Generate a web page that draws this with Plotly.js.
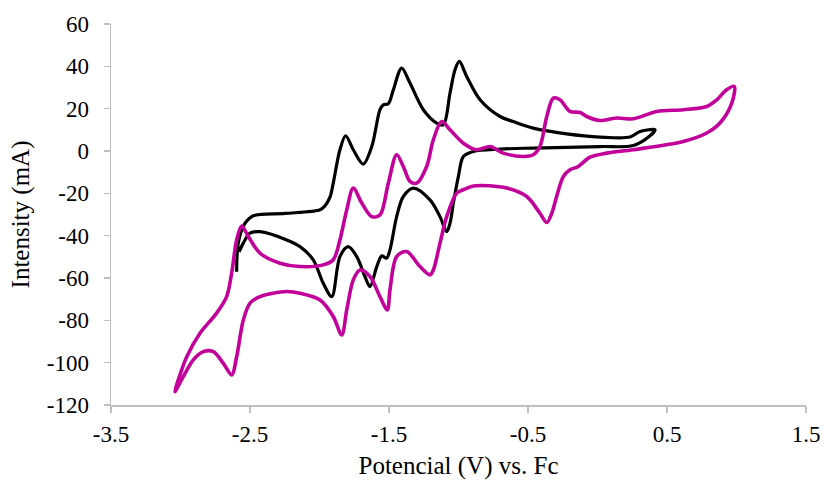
<!DOCTYPE html>
<html>
<head>
<meta charset="utf-8">
<script src="https://cdn.plot.ly/plotly-3.0.1.min.js"></script>
<style>html,body{margin:0;padding:0;background:#fff;}#chart{width:824px;height:483px;}</style>
</head>
<body>
<div id="chart"></div>
<script>
// Black voltammogram (potential V vs Fc, current mA)
const blackV = [-2.596,-2.594,-2.584,-2.565,-2.536,-2.476,-2.248,-1.996,-1.960,-1.924,-1.901,-1.853,-1.812,-1.757,-1.685,-1.624,-1.565,-1.541,-1.505,-1.469,-1.409,-1.349,-1.253,-1.157,-1.109,-1.061,-1.025,-0.994,-0.941,-0.845,-0.701,-0.606,-0.462,-0.222,0.018,0.234,0.306,0.414,0.378,0.258,0.018,-0.462,-0.701,-0.893,-0.965,-1.001,-1.037,-1.061,-1.085,-1.133,-1.205,-1.325,-1.397,-1.445,-1.493,-1.517,-1.553,-1.588,-1.637,-1.673,-1.732,-1.793,-1.853,-1.912,-1.973,-2.045,-2.140,-2.236,-2.428,-2.500,-2.548,-2.579];
const blackI = [-57.0,-50.5,-43.5,-38.2,-34.1,-30.6,-29.5,-27.8,-25.9,-21.7,-15.2,0.6,7.2,0.6,-6.2,2.1,19.5,21.8,22.3,28.9,39.2,32.1,19.5,13.2,12.4,27.4,38.4,42.3,35.2,24.2,16.3,13.9,10.8,8.1,6.6,6.6,9.2,10.0,7.2,2.6,2.1,1.4,0.9,-0.2,-2.6,-12.1,-24.6,-34.1,-38.1,-31.0,-23.1,-17.5,-21.5,-31.0,-46.7,-50.6,-49.6,-54.6,-64.1,-59.3,-49.9,-45.2,-49.9,-68.8,-62.5,-51.4,-45.2,-42.0,-38.1,-38.8,-43.5,-47.7];

// Magenta voltammogram
const magV = [-3.040,-3.004,-2.955,-2.860,-2.740,-2.668,-2.632,-2.596,-2.560,-2.512,-2.428,-2.284,-2.140,-1.973,-1.901,-1.853,-1.804,-1.757,-1.696,-1.624,-1.565,-1.505,-1.445,-1.397,-1.349,-1.301,-1.229,-1.181,-1.121,-1.061,-0.965,-0.869,-0.773,-0.678,-0.534,-0.462,-0.414,-0.365,-0.318,-0.270,-0.198,-0.126,-0.078,0.018,0.138,0.258,0.426,0.617,0.786,0.858,0.929,0.984,0.966,0.881,0.786,0.617,0.258,0.066,-0.054,-0.138,-0.198,-0.246,-0.294,-0.329,-0.365,-0.414,-0.509,-0.653,-0.893,-0.965,-1.013,-1.085,-1.133,-1.181,-1.205,-1.277,-1.373,-1.445,-1.493,-1.512,-1.565,-1.637,-1.709,-1.757,-1.804,-1.840,-1.901,-1.996,-2.140,-2.236,-2.428,-2.500,-2.548,-2.596,-2.632,-2.692,-2.764,-2.836,-2.908,-2.980,-3.040];
const magI = [-113.7,-105.8,-97.2,-86.1,-76.6,-68.8,-57.7,-42.0,-35.4,-40.4,-48.3,-53.0,-54.6,-53.8,-51.4,-42.0,-27.8,-17.5,-24.6,-31.0,-30.2,-15.2,-1.8,-7.3,-14.4,-15.2,-7.3,5.3,13.9,10.0,3.7,0.6,2.1,-1.0,-2.6,-1.8,2.1,16.3,25.0,24.2,18.7,18.2,16.3,14.4,15.6,15.2,18.7,19.5,21.0,24.2,28.9,30.5,22.6,13.2,8.5,4.5,0.6,-1.0,-2.9,-7.3,-8.9,-12.1,-21.5,-29.4,-33.8,-29.4,-21.5,-17.5,-16.5,-18.3,-19.9,-31.0,-43.5,-56.2,-58.5,-54.6,-47.5,-49.9,-65.6,-75.1,-68.8,-59.3,-56.2,-60.9,-75.1,-86.9,-78.2,-70.4,-67.2,-66.4,-68.8,-71.9,-79.8,-97.2,-105.8,-100.3,-94.8,-94.8,-98.7,-106.6,-113.7];

// Tick labels
const xTickVals = [-3.5,-2.5,-1.5,-0.5,0.5,1.5];
const xTickText = ["-3.5","-2.5","-1.5","-0.5","0.5","1.5"];
const yTickVals = [-120,-100,-80,-60,-40,-20,0,20,40,60];
const yTickText = ["-120","-100","-80","-60","-40","-20","0","20","40","60"];

const font = "Liberation Serif, Times New Roman, serif";

const traces = [
  {x: blackV, y: blackI, mode: "lines", line: {color: "#000000", width: 3.2, shape: "spline", smoothing: 0.9}, hoverinfo: "skip"},
  {x: magV, y: magI, mode: "lines", line: {color: "#C2009A", width: 3.6, shape: "spline", smoothing: 0.9}, hoverinfo: "skip"}
];

const axisCommon = {
  showgrid: false, zeroline: false, showline: true, linecolor: "#BFBFBF", linewidth: 1.5,
  ticks: "outside", ticklen: 6, tickwidth: 1.5, tickcolor: "#BFBFBF",
  tickfont: {family: font, size: 23, color: "#000"}, tickmode: "array"
};

const layout = {
  width: 824, height: 483,
  margin: {l: 111, r: 18, t: 24, b: 78},
  paper_bgcolor: "#fff", plot_bgcolor: "#fff",
  showlegend: false,
  xaxis: Object.assign({}, axisCommon, {
    range: [-3.5, 1.5], tickvals: xTickVals, ticktext: xTickText,
    ticklabelstandoff: 2,
    title: {text: "Potencial (V) vs. Fc", font: {family: font, size: 25, color: "#000"}, standoff: 10}
  }),
  yaxis: Object.assign({}, axisCommon, {
    range: [-120, 60], tickvals: yTickVals, ticktext: yTickText,
    title: {text: "Intensity (mA)", font: {family: font, size: 25, color: "#000"}, standoff: 10},
    ticklabelstandoff: 10
  })
};

Plotly.newPlot("chart", traces, layout, {displayModeBar: false, staticPlot: true});
</script>
</body>
</html>
